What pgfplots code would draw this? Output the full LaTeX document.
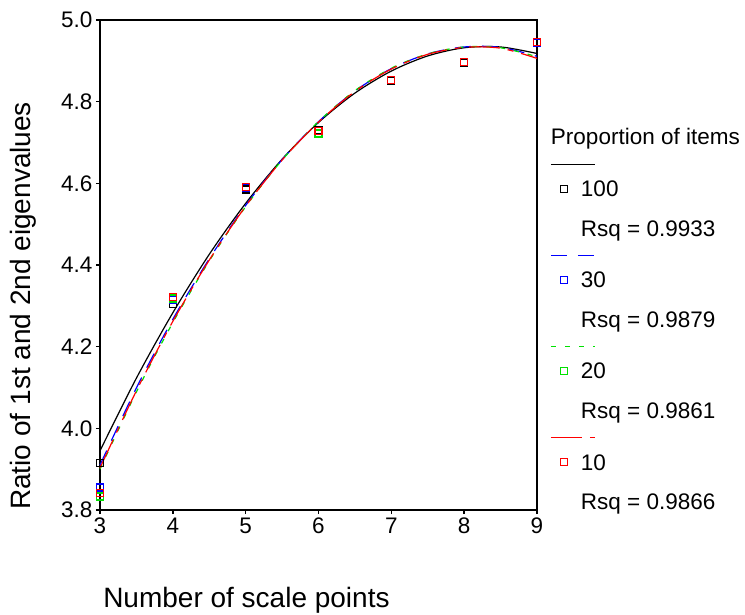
\documentclass[border=0pt]{standalone}
\usepackage{fontspec}
\setmainfont{Liberation Sans}
\usepackage{pgfplots}
\pgfplotsset{compat=1.18}
\definecolor{cblue}{RGB}{0,0,255}
\definecolor{cgreen}{RGB}{0,225,0}
\definecolor{cred}{RGB}{255,0,0}
\pgfplotsset{
 linelegend/.style={legend image code/.code={\path[draw=none,fill=none] (0pt,-10.5pt) rectangle (30pt,10.5pt); \draw[##1,overlay] (0pt,3.2pt) -- (44pt,3.2pt);}},
 marklegend/.style={legend image code/.code={\path[draw=none,fill=none] (0pt,-10.5pt) rectangle (30pt,10.5pt); \draw[##1,solid] (9.5pt,10.4pt) rectangle (16.5pt,17.4pt);}},
}
\begin{document}
\begin{tikzpicture}
\begin{axis}[
 scale only axis, width=437pt, height=490pt,
 xmin=3, xmax=9, ymin=3.8, ymax=5.0,
 xtick={3,4,5,6,7,8,9},
 ytick={3.8,4.0,4.2,4.4,4.6,4.8,5.0},
 /pgf/number format/assume math mode=true,
 tick label style={font=\fontsize{22.5}{27}\selectfont},
 yticklabel style={/pgf/number format/.cd, fixed, fixed zerofill, precision=1},
 tick align=outside, tick pos=left,
 major tick length=4pt,
 tick style={black, line width=1.6pt},
 axis line style={line width=1.6pt},
 clip=false,
 xlabel={Number of scale points},
 ylabel={Ratio of 1st and 2nd eigenvalues},
 every axis x label/.style={at={(axis description cs:0.007,-0.198)}, anchor=base west, inner sep=0pt, font=\fontsize{28}{34}\selectfont},
 every axis y label/.style={at={(axis description cs:-0.160,0)}, anchor=base west, rotate=90, inner sep=0pt, font=\fontsize{28}{34}\selectfont},
 legend cell align=left,
 legend style={draw=none, fill=none, inner sep=0pt, outer sep=0pt, at={(axis description cs:1.032,0.7776)}, anchor=north west, row sep=6.9pt, column sep=0pt, font=\fontsize{22.5}{27}\selectfont, nodes={inner sep=0pt, text height=16pt, text depth=5pt}},
]
% fitted curves
\addplot[black, line width=1.2pt, smooth, forget plot] coordinates {
(3,3.945) (3.5,4.123) (4,4.283) (4.5,4.426) (5,4.551) (5.5,4.659) (6,4.749) (6.5,4.821) (7,4.875) (7.5,4.912) (8,4.932) (8.5,4.934) (9,4.918)};
\addplot[cblue, line width=1.2pt, dash pattern=on 16pt off 11pt, smooth, forget plot] coordinates {
(3,3.910) (3.5,4.099) (4,4.267) (4.5,4.415) (5,4.546) (5.5,4.658) (6,4.751) (6.5,4.826) (7,4.881) (7.5,4.917) (8,4.934) (8.5,4.933) (9,4.911)};
\addplot[cgreen, line width=1.2pt, dash pattern=on 5pt off 9pt, smooth, forget plot] coordinates {
(3,3.900) (3.5,4.089) (4,4.259) (4.5,4.410) (5,4.543) (5.5,4.657) (6,4.751) (6.5,4.827) (7,4.882) (7.5,4.917) (8,4.934) (8.5,4.932) (9,4.910)};
\addplot[cred, line width=1.2pt, dash pattern=on 31pt off 8pt on 6pt off 8pt, smooth, forget plot] coordinates {
(3,3.903) (3.5,4.092) (4,4.262) (4.5,4.412) (5,4.544) (5.5,4.657) (6,4.750) (6.5,4.825) (7,4.880) (7.5,4.916) (8,4.933) (8.5,4.931) (9,4.906)};
% observed points
\addplot[only marks, mark=square, mark size=3.5pt, mark options={draw=black, line width=1.1pt, solid, fill=none}, forget plot] coordinates {
(3,3.915) (4,4.305) (5,4.585) (6,4.730) (7,4.850) (8,4.895) (9,4.945)};
\addplot[only marks, mark=square, mark size=3.5pt, mark options={draw=cblue, line width=1.1pt, solid, fill=none}, forget plot] coordinates {
(3,3.855) (4,4.315) (5,4.588) (6,4.728) (7,4.852) (8,4.897) (9,4.945)};
\addplot[only marks, mark=square, mark size=3.5pt, mark options={draw=cgreen, line width=1.1pt, solid, fill=none}, forget plot] coordinates {
(3,3.833) (4,4.318) (5,4.590) (6,4.722) (7,4.853) (8,4.897) (9,4.946)};
\addplot[only marks, mark=square, mark size=3.5pt, mark options={draw=cred, line width=1.1pt, solid, fill=none}, forget plot] coordinates {
(3,3.842) (4,4.322) (5,4.592) (6,4.728) (7,4.853) (8,4.897) (9,4.947)};
% legend
\addlegendimage{empty legend}\addlegendentry{\hspace*{-30pt}Proportion of items}
\addlegendimage{linelegend, black, line width=1.2pt}\addlegendentry{}
\addlegendimage{marklegend, black, line width=1pt}\addlegendentry{\raisebox{11.4pt}{100}}
\addlegendimage{empty legend}\addlegendentry{Rsq = 0.9933}
\addlegendimage{linelegend, cblue, line width=1.2pt, dash pattern=on 16pt off 11pt}\addlegendentry{}
\addlegendimage{marklegend, cblue, line width=1pt}\addlegendentry{\raisebox{11.4pt}{30}}
\addlegendimage{empty legend}\addlegendentry{Rsq = 0.9879}
\addlegendimage{linelegend, cgreen, line width=1.2pt, dash pattern=on 5pt off 9pt}\addlegendentry{}
\addlegendimage{marklegend, cgreen, line width=1pt}\addlegendentry{\raisebox{11.4pt}{20}}
\addlegendimage{empty legend}\addlegendentry{Rsq = 0.9861}
\addlegendimage{linelegend, cred, line width=1.2pt, dash pattern=on 31pt off 8pt on 6pt off 8pt}\addlegendentry{}
\addlegendimage{marklegend, cred, line width=1pt}\addlegendentry{\raisebox{11.4pt}{10}}
\addlegendimage{empty legend}\addlegendentry{Rsq = 0.9866}
\end{axis}
\pgfresetboundingbox
\path[use as bounding box] (-100pt,-104pt) rectangle (645pt,510pt);
\end{tikzpicture}
\end{document}
